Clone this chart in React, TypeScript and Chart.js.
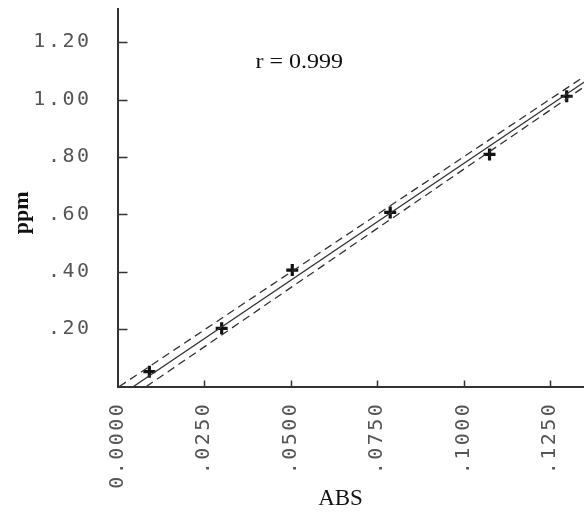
import React, { useEffect, useRef } from 'react';
import { Chart, registerables } from 'chart.js';

Chart.register(...registerables);

// Calibration points (ABS vs ppm)
const absValues = [0.0092, 0.0301, 0.0505, 0.0788, 0.1075, 0.1298];
const ppmValues = [0.052, 0.203, 0.406, 0.607, 0.809, 1.012];

// Fitted line and its two dashed bands (end points)
const fitAbs = [0.0046, 0.135];
const fitPpm = [0, 1.062];
const upperAbs = [0.0005, 0.135];
const upperPpm = [0, 1.082];
const lowerAbs = [0.0083, 0.135];
const lowerPpm = [0, 1.046];

const xTickValues = [0, 0.025, 0.05, 0.075, 0.1, 0.125];
const xTickLabels = ['0.0000', '.0250', '.0500', '.0750', '.1000', '.1250'];
const yTickValues = [0.2, 0.4, 0.6, 0.8, 1.0, 1.2];
const yTickLabels = ['.20', '.40', '.60', '.80', '1.00', '1.20'];

const rText = 'r = 0.999';
const xTitle = 'ABS';
const yTitle = 'ppm';

const toPoints = (xs: number[], ys: number[]) => xs.map((x, i) => ({ x, y: ys[i] }));
const labelFor = (values: number[], labels: string[], v: number) => {
  const i = values.findIndex((t) => Math.abs(t - v) < 1e-9);
  return i >= 0 ? labels[i] : '';
};

const decorPlugin = {
  id: 'decor',
  beforeDraw(chart: any) {
    (chart.ctx as any).letterSpacing = '2.5px';
  },
  afterDraw(chart: any) {
    const { ctx, chartArea, scales } = chart;
    const xs = scales.x;
    const ys = scales.y;
    ctx.save();
    (ctx as any).letterSpacing = '0px';
    ctx.strokeStyle = '#333';
    ctx.lineWidth = 1.5;
    ctx.beginPath();
    yTickValues.forEach((v) => {
      const py = Math.round(ys.getPixelForValue(v)) + 0.5;
      ctx.moveTo(chartArea.left, py);
      ctx.lineTo(chartArea.left + 10, py);
    });
    xTickValues.forEach((v) => {
      if (v === 0) return;
      const px = Math.round(xs.getPixelForValue(v)) + 0.5;
      ctx.moveTo(px, chartArea.bottom);
      ctx.lineTo(px, chartArea.bottom - 6);
    });
    ctx.stroke();

    ctx.fillStyle = '#111';
    ctx.save();
    ctx.translate(chartArea.left + 138, 68);
    ctx.scale(1.2, 1);
    ctx.font = '20px "Liberation Serif", "Times New Roman", serif';
    ctx.textAlign = 'left';
    ctx.textBaseline = 'alphabetic';
    ctx.fillText(rText, 0, 0);
    ctx.restore();

    ctx.font = '23px "Liberation Serif", "Times New Roman", serif';
    ctx.textAlign = 'center';
    ctx.textBaseline = 'alphabetic';
    ctx.fillText(xTitle, chartArea.left + 223, 505);

    ctx.save();
    ctx.translate(28, (chartArea.top + chartArea.bottom) / 2 + 15);
    ctx.rotate(-Math.PI / 2);
    ctx.font = 'bold 22px "Liberation Serif", "Times New Roman", serif';
    ctx.textAlign = 'center';
    ctx.textBaseline = 'alphabetic';
    ctx.fillText(yTitle, 0, 0);
    ctx.restore();
    ctx.restore();
  },
};

export default function App() {
  const canvasRef = useRef<HTMLCanvasElement | null>(null);

  useEffect(() => {
    document.body.style.margin = '0';
    const canvas = canvasRef.current;
    if (!canvas) return;
    const tickFont = { family: '"DejaVu Sans Mono", monospace', size: 20 };
    const chart = new Chart(canvas, {
      type: 'scatter',
      data: {
        datasets: [
          {
            label: 'upper',
            data: toPoints(upperAbs, upperPpm),
            showLine: true,
            borderColor: '#333',
            borderWidth: 1.3,
            borderDash: [8, 5],
            pointRadius: 0,
          },
          {
            label: 'fit',
            data: toPoints(fitAbs, fitPpm),
            showLine: true,
            borderColor: '#333',
            borderWidth: 1.2,
            pointRadius: 0,
          },
          {
            label: 'lower',
            data: toPoints(lowerAbs, lowerPpm),
            showLine: true,
            borderColor: '#333',
            borderWidth: 1.3,
            borderDash: [8, 5],
            pointRadius: 0,
          },
          {
            label: 'points',
            data: toPoints(absValues, ppmValues),
            pointStyle: 'cross',
            pointRadius: 6,
            borderWidth: 3.2,
            borderColor: '#111',
            backgroundColor: '#111',
          },
        ],
      },
      options: {
        animation: false,
        responsive: false,
        layout: { autoPadding: false, padding: { top: 9, left: 0, right: 0, bottom: 0 } },
        plugins: {
          legend: { display: false },
          tooltip: { enabled: false },
          title: { display: false },
        },
        scales: {
          x: {
            type: 'linear',
            min: 0,
            max: 0.1348,
            afterBuildTicks: (axis: any) => {
              axis.ticks = xTickValues.map((v) => ({ value: v }));
            },
            afterFit: (scale: any) => {
              scale.height = 125.4;
              scale.paddingLeft = 0;
              scale.paddingRight = 0;
            },
            grid: { display: false, drawTicks: false },
            border: { display: true, color: '#333', width: 2 },
            ticks: {
              autoSkip: false,
              minRotation: 90,
              maxRotation: 90,
              padding: 15,
              color: '#555',
              font: tickFont,
              callback: (v: any) => labelFor(xTickValues, xTickLabels, Number(v)),
            },
          },
          y: {
            type: 'linear',
            min: 0,
            max: 1.316,
            afterBuildTicks: (axis: any) => {
              axis.ticks = yTickValues.map((v) => ({ value: v }));
            },
            afterFit: (scale: any) => {
              scale.width = 117.5;
              scale.paddingTop = 0;
              scale.paddingBottom = 0;
            },
            grid: { display: false, drawTicks: false },
            border: { display: true, color: '#333', width: 2 },
            ticks: {
              autoSkip: false,
              padding: 26,
              color: '#555',
              font: tickFont,
              callback: (v: any) => labelFor(yTickValues, yTickLabels, Number(v)),
            },
          },
        },
      },
      plugins: [decorPlugin],
    });
    return () => chart.destroy();
  }, []);

  return (
    <div style={{ position: 'absolute', left: 0, top: 0, width: 584, height: 512, background: '#fff' }}>
      <canvas ref={canvasRef} width={584} height={512} style={{ display: 'block' }} />
    </div>
  );
}
